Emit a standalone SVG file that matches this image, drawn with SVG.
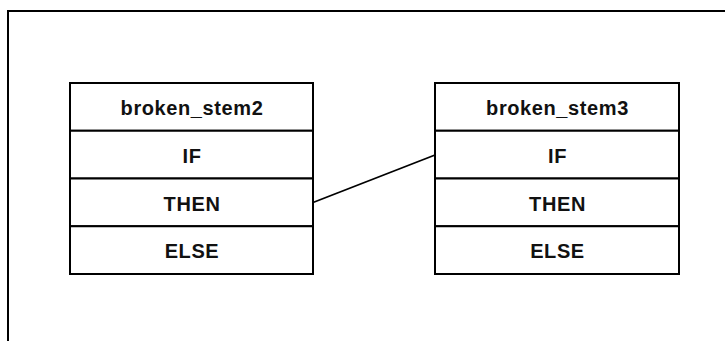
<svg xmlns="http://www.w3.org/2000/svg" width="725" height="341" viewBox="0 0 725 341">
  <style>
    .frame { fill: none; stroke: #000; stroke-width: 2; }
    .cell { fill: #fff; stroke: #000; stroke-width: 2; }
    .label { font-family: "Liberation Sans", Arial, Helvetica, sans-serif; font-weight: bold; font-size: 20px; letter-spacing: 0.6px; text-anchor: middle; fill: #111; }
    .link { fill: none; stroke: #000; stroke-width: 1.8; }
  </style>
  <rect width="725" height="341" fill="#fff"/>
  <!-- outer frame: only top and left edges fall inside the view -->
  <path class="frame" d="M8,345 V11 H730"/>

  <g id="broken_stem2">
    <rect class="cell" x="70" y="83" width="243" height="47.75"/>
    <rect class="cell" x="70" y="130.75" width="243" height="47.75"/>
    <rect class="cell" x="70" y="178.5" width="243" height="47.75"/>
    <rect class="cell" x="70" y="226.25" width="243" height="47.75"/>
    <text class="label" x="192" y="114.5">broken_stem2</text>
    <text class="label" x="192" y="162.5">IF</text>
    <text class="label" x="192" y="210.5">THEN</text>
    <text class="label" x="192" y="258">ELSE</text>
  </g>

  <g id="broken_stem3">
    <rect class="cell" x="435" y="83" width="244" height="47.75"/>
    <rect class="cell" x="435" y="130.75" width="244" height="47.75"/>
    <rect class="cell" x="435" y="178.5" width="244" height="47.75"/>
    <rect class="cell" x="435" y="226.25" width="244" height="47.75"/>
    <text class="label" x="557.5" y="114.5">broken_stem3</text>
    <text class="label" x="557.5" y="162.5">IF</text>
    <text class="label" x="557.5" y="210.5">THEN</text>
    <text class="label" x="557.5" y="258">ELSE</text>
  </g>

  <g id="connectors">
    <line class="link" x1="313" y1="202.5" x2="435" y2="155"/>
  </g>
</svg>
